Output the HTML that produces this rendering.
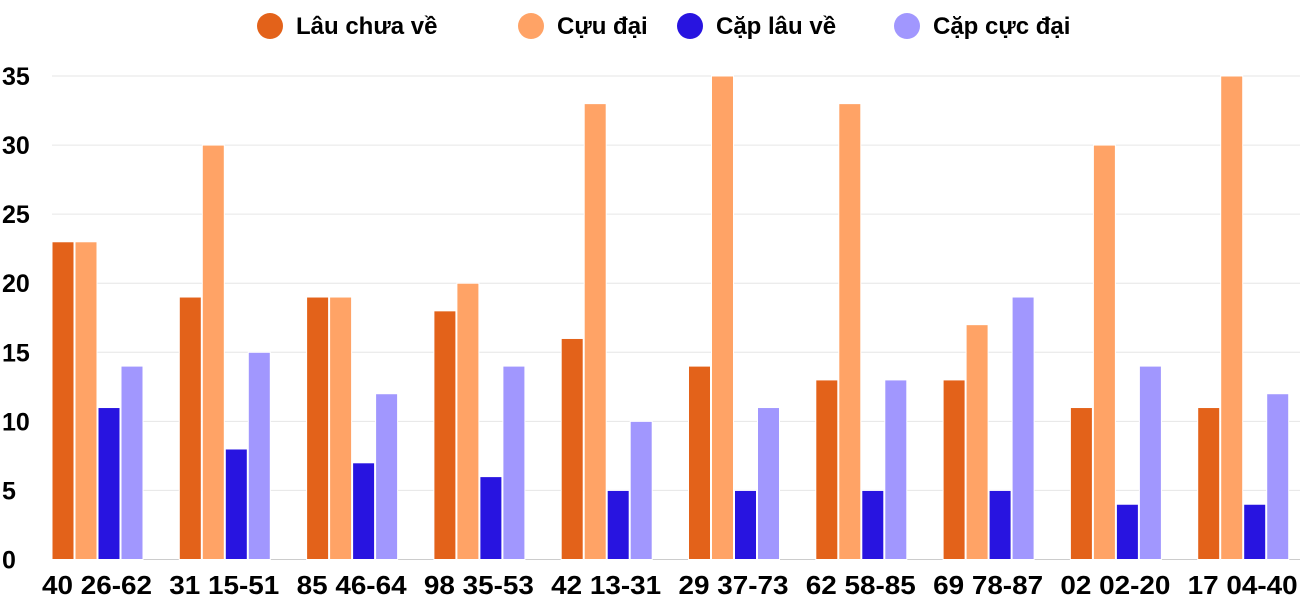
<!DOCTYPE html>
<html><head><meta charset="utf-8"><style>
body{margin:0;background:#fff;}
svg{display:block;font-family:"Liberation Sans",sans-serif;font-weight:bold;}
</style></head><body>
<svg id="c" width="1300" height="600"></svg>
<script>
const categories=["40 26-62","31 15-51","85 46-64","98 35-53","42 13-31","29 37-73","62 58-85","69 78-87","02 02-20","17 04-40"];
const seriesNames=["Lâu chưa về","Cựu đại","Cặp lâu về","Cặp cực đại"];
const lauChuaVe=[23,19,19,18,16,14,13,13,11,11];
const cuuDai=[23,30,19,20,33,35,33,17,30,35];
const capLauVe=[11,8,7,6,5,5,5,5,4,4];
const capCucDai=[14,15,12,14,10,11,13,19,14,12];
const yTicks=[0,5,10,15,20,25,30,35];
const colors=["#E3621A","#FFA366","#2814E0","#A197FE"];
const series=[lauChuaVe,cuuDai,capLauVe,capCucDai];
const NS="http://www.w3.org/2000/svg";
const svg=document.getElementById('c');
const y0=559.5,yTop=76,yMax=35;
const y=v=>y0-(v/yMax)*(y0-yTop);
const x0=52,groupStep=127.3,barStep=23,barW=22;
const x=(i,j)=>x0+i*groupStep+j*barStep;
function mk(t,a){const e=document.createElementNS(NS,t);for(const k in a)e.setAttribute(k,a[k]);svg.appendChild(e);return e;}
yTicks.forEach(t=>{
 const g=mk('line',{x1:52,x2:1300,y1:y(t),y2:y(t),stroke:t===0?'#ccc':'#e6e6e6','stroke-width':1});
 
 
 const l=mk('text',{x:2,y:y(t)+9,'font-size':25,fill:'#000'});
 l.textContent=t;
 
 
});
categories.forEach((c,i)=>{
 series.forEach((s,j)=>{
  const r=mk('rect',{x:x(i,j),y:y(s[i]),width:barW,height:y0-y(s[i]),fill:colors[j],stroke:'#fff','stroke-width':1});
  
  
 });
 const t=mk('text',{x:x(i,0)+45,y:594,'font-size':26,'text-anchor':'middle',fill:'#000',textLength:110,lengthAdjust:'spacingAndGlyphs'});
 t.textContent=c;
 
 
});
const legX=[270,531,690,907];
seriesNames.forEach((n,j)=>{
 const c=mk('circle',{cx:legX[j],cy:26,r:13,fill:colors[j]});
 
 
 const t=mk('text',{x:legX[j]+26,y:34,'font-size':24,fill:'#000'});
 t.textContent=n;
 
 
});
</script>
</body></html>
